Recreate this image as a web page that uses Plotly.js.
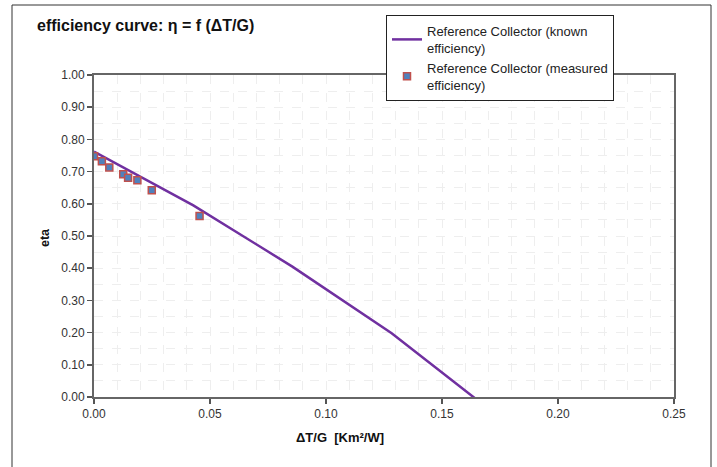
<!DOCTYPE html>
<html>
<head>
<meta charset="utf-8">
<script src="https://cdn.plot.ly/plotly-3.0.1.min.js"></script>
<style>html,body{margin:0;padding:0;background:#fff;}#chart{width:717px;height:467px;}</style>
</head>
<body>
<div id="chart"></div>
<script>
// Reference (known efficiency) curve
const knownX = [0, 0.0428, 0.0855, 0.1283, 0.171];
const knownEta = [0.762, 0.595, 0.405, 0.198, -0.042];
// Measured efficiency points
const measX = [0.0000, 0.0034, 0.0066, 0.0126, 0.0147, 0.0187, 0.0249, 0.0455];
const measEta = [0.748, 0.732, 0.713, 0.692, 0.681, 0.673, 0.642, 0.562];

const knownName = 'Reference Collector (known<br>efficiency)';
const measName = 'Reference Collector (measured<br>efficiency)';
const titleText = '<b>efficiency curve: η = f (ΔT/G)</b>';
const xTitle = '<b>ΔT/G&nbsp;&nbsp;[Km²/W]</b>';
const yTitle = '<b>eta</b>';

const F = 'Arial, "Liberation Sans", sans-serif';

const traces = [
  {x: knownX, y: knownEta, type: 'scatter', mode: 'lines', name: knownName,
   line: {color: '#7030a0', width: 2.5}, cliponaxis: true},
  {x: measX, y: measEta, type: 'scatter', mode: 'markers', name: measName,
   marker: {symbol: 'square', size: 7, color: '#4f81bd', line: {color: '#c0504d', width: 1.5}}}
];

const L = 94, R = 674, T = 75, B = 397;
const pw = R - L, ph = B - T;

const layout = {
  width: 717, height: 467,
  margin: {l: L, r: 717 - R, t: T, b: 467 - B, pad: 0},
  paper_bgcolor: '#fff', plot_bgcolor: '#fff',
  font: {family: F, size: 12, color: '#333'},
  title: {text: titleText, font: {family: F, size: 16, color: '#111'},
          xref: 'container', yref: 'container', x: 37/717, xanchor: 'left', y: 1 - 25/467, yanchor: 'middle'},
  xaxis: {range: [0, 0.25], dtick: 0.05, tick0: 0, tickformat: '.2f',
          showline: true, mirror: true, linecolor: '#666', linewidth: 2,
          ticks: 'outside', ticklen: 5, tickcolor: '#555', tickwidth: 1.5,
          showgrid: true, gridcolor: '#eeeeee', gridwidth: 1, griddash: 'dash',
          minor: {dtick: 0.01, showgrid: true, gridcolor: '#eeeeee', griddash: 'dash'},
          zeroline: false, fixedrange: true,
          tickfont: {family: F, size: 12, color: '#333'}},
  yaxis: {range: [0, 1], dtick: 0.1, tick0: 0, tickformat: '.2f',
          showline: true, mirror: true, linecolor: '#666', linewidth: 2,
          ticks: 'outside', ticklen: 5, tickcolor: '#555', tickwidth: 1.5,
          showgrid: true, gridcolor: '#eeeeee', gridwidth: 1, griddash: 'dash',
          minor: {dtick: 0.05, showgrid: true, gridcolor: '#eeeeee', griddash: 'dash'},
          zeroline: false, fixedrange: true,
          tickfont: {family: F, size: 12, color: '#333'}},
  annotations: [
    {text: xTitle, xref: 'paper', yref: 'paper', x: (340 - L)/pw, y: (B - 437)/ph,
     xanchor: 'center', yanchor: 'middle', showarrow: false, font: {family: F, size: 13, color: '#111'}},
    {text: yTitle, xref: 'paper', yref: 'paper', x: (45 - L)/pw, y: (B - 238)/ph, textangle: -90,
     xanchor: 'center', yanchor: 'middle', showarrow: false, font: {family: F, size: 12.5, color: '#111'}}
  ],
  showlegend: true,
  legend: {x: (386 - L)/pw, y: (B - 15)/ph, xanchor: 'left', yanchor: 'top',
           bgcolor: '#fff', bordercolor: '#222', borderwidth: 1,
           font: {family: F, size: 13, color: '#222'}, itemwidth: 30},
  shapes: [{type: 'rect', xref: 'paper', yref: 'paper',
            x0: (12 - L)/pw, x1: (711 - L)/pw, y0: (B - 475)/ph, y1: (B - 5)/ph,
            line: {color: '#333', width: 1}, fillcolor: 'rgba(0,0,0,0)', layer: 'below'}]
};

Plotly.newPlot('chart', traces, layout, {displayModeBar: false, staticPlot: true});
</script>
</body>
</html>
